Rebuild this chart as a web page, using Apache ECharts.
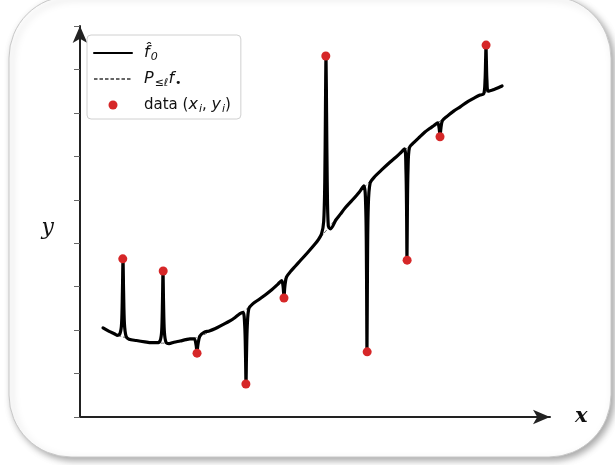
<!DOCTYPE html>
<html>
<head>
<meta charset="utf-8">
<script src="https://cdn.jsdelivr.net/npm/echarts@6/dist/echarts.min.js"></script>
<style>
html,body{margin:0;padding:0;background:#fff;}
#c{width:615px;height:465px;}
</style>
</head>
<body>
<div id="c"></div>
<script>
// f0 curve (smooth trend with narrow spikes at the data points)
var f0Points = [
  [0.49,2.05],[0.62,1.97],[0.74,1.91],
  [0.787,1.88],[0.850,1.92],[0.885,2.15],[0.903,2.90],[0.915,3.62],[0.927,2.90],[0.945,2.15],[0.980,1.86],[1.043,1.79],
  [1.20,1.76],[1.38,1.73],[1.52,1.71],
  [1.638,1.71],[1.705,1.76],[1.738,1.98],[1.755,2.65],[1.766,3.34],[1.777,2.65],[1.794,1.98],[1.830,1.72],[1.894,1.69],
  [2.00,1.72],[2.13,1.75],[2.25,1.78],
  [2.340,1.80],[2.430,1.80],[2.470,1.66],[2.489,1.49],[2.508,1.66],[2.548,1.86],[2.638,1.95],
  [2.75,1.98],[2.87,2.03],[3.03,2.12],[3.19,2.21],[3.30,2.29],
  [3.404,2.38],[3.470,2.41],[3.505,2.10],[3.522,1.40],[3.532,0.78],[3.542,1.40],[3.559,2.10],[3.594,2.50],[3.681,2.61],
  [3.80,2.70],[3.94,2.81],[4.08,2.93],
  [4.213,3.06],[4.290,3.14],[4.322,3.00],[4.340,2.76],[4.358,3.00],[4.392,3.22],[4.489,3.36],
  [4.58,3.47],[4.68,3.59],[4.84,3.78],[5.00,3.98],
  [5.064,4.07],[5.140,4.22],[5.185,4.50],[5.208,5.40],[5.222,7.00],[5.234,8.29],[5.246,7.00],[5.260,5.40],[5.283,4.40],[5.330,4.33],[5.447,4.54],
  [5.54,4.67],[5.64,4.81],[5.80,5.00],
  [5.936,5.17],[6.040,5.32],[6.080,4.80],[6.096,3.40],[6.106,1.52],[6.116,3.40],[6.132,4.80],[6.172,5.38],[6.277,5.54],
  [6.44,5.71],[6.60,5.87],[6.70,5.96],
  [6.809,6.07],[6.905,6.17],[6.935,5.70],[6.949,4.70],[6.957,3.63],[6.965,4.70],[6.979,5.70],[7.009,6.20],[7.106,6.32],
  [7.22,6.44],[7.34,6.56],[7.44,6.64],
  [7.532,6.71],[7.610,6.77],[7.640,6.66],[7.660,6.47],[7.680,6.66],[7.710,6.82],[7.809,6.92],
  [7.95,7.04],[8.09,7.14],[8.25,7.26],[8.40,7.35],
  [8.511,7.41],[8.590,7.44],[8.618,7.75],[8.630,8.20],[8.638,8.54],[8.646,8.20],[8.658,7.75],[8.686,7.50],[8.809,7.54],
  [8.90,7.58],[8.98,7.62]
];
// smooth projection P_{<=l} f
var projPoints = [
  [0.49,2.05],[0.74,1.91],[1.06,1.80],[1.38,1.73],[1.81,1.70],[2.13,1.75],[2.51,1.84],
  [2.87,2.03],[3.19,2.21],[3.55,2.49],[3.94,2.81],[4.36,3.20],[4.68,3.59],[5.00,3.98],
  [5.23,4.28],[5.64,4.81],[6.11,5.36],[6.60,5.87],[6.96,6.19],[7.34,6.56],[7.66,6.81],
  [8.09,7.14],[8.64,7.48],[8.98,7.62]
];
// data (x_i, y_i)
var dataPoints = [
  [0.91,3.64],[1.77,3.36],[2.49,1.47],[3.53,0.76],[4.34,2.74],
  [5.23,8.31],[6.11,1.50],[6.96,3.61],[7.66,6.45],[8.64,8.56]
];
var seriesNames = ['f0', 'P', 'data'];
var legendLabels = {
  f0: '{pad|}{it|f\u0302}{sub|0}',
  P: '{pad|}{it|P}{sub|\u2264\u2113}{it|f}{sub|\u2022}',
  data: '{pad|}{n|data (}{it|x}{sub|i}{n|, }{it|y}{sub|i}{n|)}'
};

var chart = echarts.init(document.getElementById('c'), null, {renderer: 'canvas'});
var FONT = 'DejaVu Sans';
chart.setOption({
  animation: false,
  backgroundColor: '#ffffff',
  graphic: [{
    type: 'rect', z: -10, silent: true,
    shape: {x: 9, y: -4, width: 602, height: 461, r: 62},
    style: {fill: '#ffffff', stroke: '#c8c8c8', lineWidth: 1,
      shadowBlur: 7, shadowColor: 'rgba(0,0,0,0.35)', shadowOffsetX: 3, shadowOffsetY: 3}
  }],
  grid: {left: 80, right: 65, top: 26, bottom: 48, containLabel: false},
  xAxis: {
    type: 'value', min: 0, max: 10,
    name: 'x', nameLocation: 'end', nameGap: 25,
    nameTextStyle: {fontFamily: 'DejaVu Serif', fontStyle: 'italic', fontWeight: 'bold', fontSize: 21, color: '#111'},
    axisLine: {show: true, onZero: false, symbol: ['none', 'arrow'], symbolSize: [11, 17], symbolOffset: [0, 0],
      lineStyle: {color: '#222', width: 2}},
    axisTick: {show: false}, axisLabel: {show: false}, splitLine: {show: false}
  },
  yAxis: {
    type: 'value', min: 0, max: 9, interval: 1,
    name: 'y', nameLocation: 'middle', nameGap: 26, nameRotate: 0,
    nameTextStyle: {fontFamily: 'DejaVu Serif', fontStyle: 'italic', fontSize: 22, color: '#111',
      verticalAlign: 'top', lineHeight: 14},
    axisLine: {show: true, onZero: false, symbol: ['none', 'arrow'], symbolSize: [11, 17], symbolOffset: [0, 0],
      lineStyle: {color: '#222', width: 2}},
    axisTick: {show: true, inside: false, length: 6, lineStyle: {color: '#666', width: 1}},
    axisLabel: {show: false}, splitLine: {show: false}
  },
  legend: {
    orient: 'vertical', left: 87, top: 35,
    data: [
      {name: 'f0', itemStyle: {opacity: 0}},
      {name: 'P', itemStyle: {opacity: 0}},
      {name: 'data', icon: 'circle'}
    ],
    itemWidth: 38, itemHeight: 9, itemGap: 6, symbolKeepAspect: true,
    selectedMode: false,
    backgroundColor: '#ffffff', borderColor: '#d0d0d0', borderWidth: 1, borderRadius: 4,
    padding: [8, 10, 4, 6],
    formatter: function (name) { return legendLabels[name]; },
    textStyle: {
      fontFamily: FONT, fontSize: 15, color: '#111', lineHeight: 20,
      rich: {
        pad: {width: 7},
        it: {fontFamily: FONT, fontStyle: 'italic', fontSize: 16, color: '#111'},
        n: {fontFamily: FONT, fontSize: 15, color: '#111'},
        sub: {fontFamily: FONT, fontStyle: 'italic', fontSize: 11, color: '#111', padding: [8, 0, 0, 1]}
      }
    }
  },
  series: [
    {
      name: seriesNames[0], type: 'line', data: f0Points, symbol: 'none',
      smooth: 0.3,
      itemStyle: {color: '#000'},
      lineStyle: {color: '#000', width: 3.2, join: 'round', cap: 'round'}, z: 3
    },
    {
      name: seriesNames[1], type: 'line', data: projPoints, symbol: 'none', smooth: true,
      itemStyle: {color: '#666'},
      lineStyle: {color: '#666', width: 1, type: [3.5, 2]}, z: 2
    },
    {
      name: seriesNames[2], type: 'scatter', data: dataPoints, symbol: 'circle', symbolSize: 9,
      symbolKeepAspect: true,
      itemStyle: {color: '#d62728', opacity: 1}, z: 4
    }
  ]
});
</script>
</body>
</html>
